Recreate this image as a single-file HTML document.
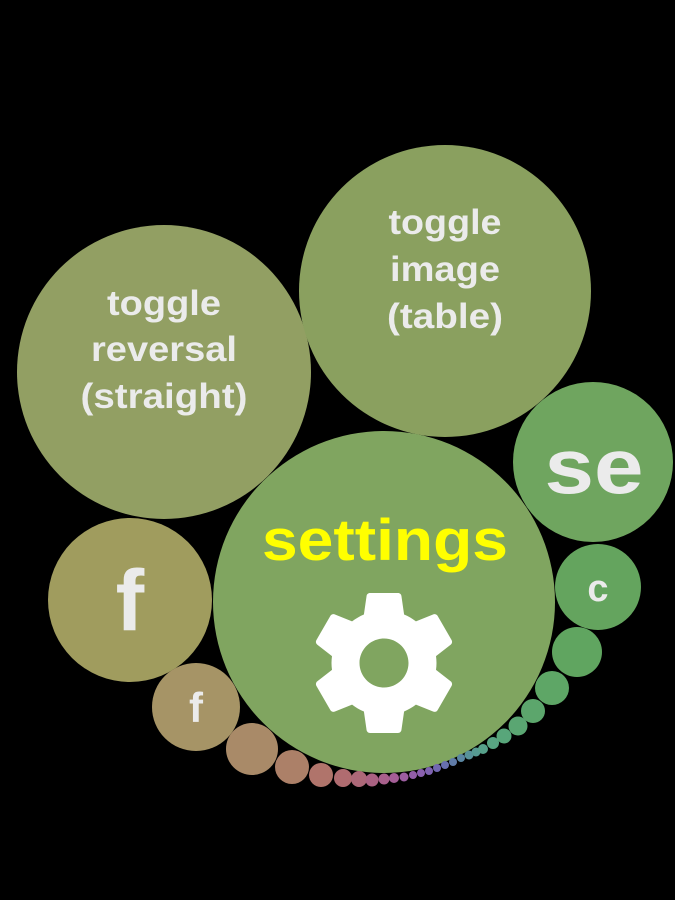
<!DOCTYPE html>
<html><head><meta charset="utf-8"><style>
html,body{margin:0;padding:0;background:#000;}
svg{display:block}
text{font-family:"Liberation Sans",sans-serif;font-weight:bold;text-anchor:middle;}
</style></head><body>
<svg width="675" height="900" viewBox="0 0 675 900">
<rect width="675" height="900" fill="#000"/>
<circle cx="164" cy="372" r="147" fill="#929f63"/>
<circle cx="445" cy="291" r="146" fill="#8aa05f"/>
<circle cx="593" cy="462" r="80" fill="#6fa55f"/>
<circle cx="598" cy="587" r="43" fill="#64a45e"/>
<circle cx="130" cy="600" r="82" fill="#a09c5e"/>
<circle cx="196" cy="707" r="44" fill="#a69466"/>
<circle cx="384" cy="602" r="171" fill="#80a560"/>
<g>
<circle cx="252" cy="749" r="26" fill="#a98a68"/>
<circle cx="292" cy="767" r="17" fill="#ac8068"/>
<circle cx="321" cy="775" r="12" fill="#b0746b"/>
<circle cx="343" cy="778" r="9" fill="#b06c70"/>
<circle cx="359" cy="779" r="8" fill="#ad6878"/>
<circle cx="372" cy="780" r="6.5" fill="#aa6282"/>
<circle cx="384" cy="779" r="5.5" fill="#a8608c"/>
<circle cx="394" cy="778" r="5" fill="#a45e96"/>
<circle cx="404" cy="777" r="4.5" fill="#9c5ea0"/>
<circle cx="413" cy="775" r="4" fill="#925ea8"/>
<circle cx="421" cy="773" r="4" fill="#8a60ae"/>
<circle cx="429" cy="771" r="4" fill="#7e62b0"/>
<circle cx="437" cy="768" r="4" fill="#7268b0"/>
<circle cx="445" cy="765" r="4" fill="#6870ae"/>
<circle cx="453" cy="762" r="4" fill="#607ca8"/>
<circle cx="461" cy="758" r="4" fill="#5a86a2"/>
<circle cx="469" cy="755" r="4.5" fill="#58929a"/>
<circle cx="476" cy="752" r="4.5" fill="#569a92"/>
<circle cx="483" cy="749" r="5" fill="#56a08a"/>
<circle cx="493" cy="743" r="6" fill="#58a482"/>
<circle cx="504" cy="736" r="7.5" fill="#58a67a"/>
<circle cx="518" cy="726" r="9.5" fill="#5aa672"/>
<circle cx="533" cy="711" r="12" fill="#5ca66c"/>
<circle cx="552" cy="688" r="17" fill="#5ea666"/>
<circle cx="577" cy="652" r="25" fill="#60a560"/>
</g>
<g fill="#ebebeb" font-size="35" lengthAdjust="spacingAndGlyphs">
<text x="164" y="315" textLength="114" lengthAdjust="spacingAndGlyphs">toggle</text>
<text x="164" y="361" textLength="146" lengthAdjust="spacingAndGlyphs">reversal</text>
<text x="164" y="408" textLength="167" lengthAdjust="spacingAndGlyphs">(straight)</text>
<text x="445" y="234" textLength="113" lengthAdjust="spacingAndGlyphs">toggle</text>
<text x="445" y="281" textLength="110" lengthAdjust="spacingAndGlyphs">image</text>
<text x="445" y="328" textLength="116" lengthAdjust="spacingAndGlyphs">(table)</text>
<text x="594" y="493" font-size="78" textLength="99" lengthAdjust="spacingAndGlyphs">se</text>
<text x="598" y="601" font-size="38">c</text>
<text x="130" y="630" font-size="86">f</text>
<text x="196" y="722" font-size="42">f</text>
</g>
<text x="385" y="560" font-size="58" fill="#ffff00" textLength="246" lengthAdjust="spacingAndGlyphs">settings</text>
<path transform="translate(300,579) scale(7)" fill="#fff" fill-rule="evenodd" d="M19.43 12.98c.04-.32.07-.64.07-.98s-.03-.66-.07-.98l2.11-1.65c.19-.15.24-.42.12-.64l-2-3.46c-.12-.22-.39-.3-.61-.22l-2.490 1c-.52-.4-1.08-.73-1.69-.98l-.38-2.65C14.460 2.18 14.250 2 14 2h-4c-.25 0-.46.18-.49.42l-.38 2.650c-.61.25-1.170.59-1.690.98l-2.49-1c-.23-.09-.49 0-.61.22l-2 3.46c-.13.22-.07.49.12.64l2.11 1.65c-.04.32-.07.65-.07.98s.03.66.07.98l-2.11 1.65c-.19.15-.24.42-.12.64l2 3.46c.12.22.39.3.61.22l2.49-1c.52.4 1.08.73 1.69.98l.38 2.65c.03.24.24.42.49.42h4c.25 0 .46-.18.49-.42l.38-2.65c.61-.25 1.17-.59 1.69-.98l2.49 1c.23.09.49 0 .61-.22l2-3.46c.12-.22.07-.49-.12-.64l-2.11-1.65zM12 15.5c-1.93 0-3.5-1.57-3.5-3.5s1.57-3.5 3.5-3.5 3.5 1.57 3.5 3.5-1.57 3.5-3.5 3.5z"/>
</svg>
</body></html>
